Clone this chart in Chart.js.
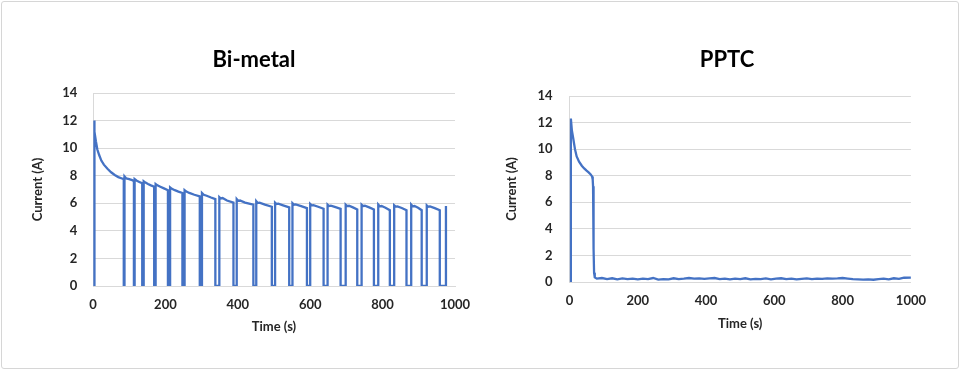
<!DOCTYPE html>
<html>
<head>
<meta charset="utf-8">
<script src="https://cdn.jsdelivr.net/npm/chart.js@4.4.1/dist/chart.umd.min.js"></script>
<style>
  html, body { margin: 0; padding: 0; background: #fff; }
  #frame { position: absolute; left: 1px; top: 1px; width: 956px; height: 366px; border: 1px solid #d6d6d6; border-radius: 3px; }
  canvas { position: absolute; top: 0; }
  #bimetal { left: 0; }
  #pptc { left: 480px; }
</style>
</head>
<body>
<div id="frame"></div>
<canvas id="bimetal" width="485" height="370"></canvas>
<canvas id="pptc" width="457" height="370"></canvas>
<script>
// axis ticks
const xTickValues = [0, 200, 400, 600, 800, 1000];
const yTickValues = [0, 2, 4, 6, 8, 10, 12, 14];

// Bi-metal: current (A) vs time (s)
const bimetalTime = [
  3, 3, 5, 8, 12, 17, 23, 30, 40, 50, 60, 70, 80, 85,
  85, 87, 87, 92, 100, 108, 113,
  113, 115, 115, 120, 128, 136,
  136, 140, 140, 145, 152, 160, 169,
  169, 173, 173, 178, 186, 196, 207,
  207, 213, 213, 218, 226, 236, 247,
  247, 253, 253, 258, 266, 280, 295,
  295, 301, 301, 306, 314, 326, 338,
  338, 349, 349, 353, 358, 370, 388,
  388, 397, 397, 401, 406, 420, 443,
  443, 451, 451, 455, 460, 475, 494,
  494, 503, 503, 507, 512, 525, 542,
  542, 551, 551, 555, 560, 575, 591,
  591, 600, 600, 604, 609, 622, 637,
  637, 648, 648, 652, 657, 670, 684,
  684, 698, 698, 702, 707, 718, 730,
  730, 742, 742, 746, 751, 763, 776,
  776, 788, 788, 792, 797, 808, 820,
  820, 832, 832, 836, 841, 853, 866,
  866, 879, 879, 883, 888, 898, 908,
  908, 922, 922, 926, 931, 944, 958,
  958, 975, 975
];
const bimetalCurrent = [
  0, 12.0, 11.2, 10.5, 9.9, 9.5, 9.1, 8.8, 8.5, 8.25, 8.05, 7.9, 7.8, 7.75,
  0, 0, 7.95, 7.8, 7.75, 7.68, 7.6,
  0, 0, 7.75, 7.65, 7.55, 7.45,
  0, 0, 7.6, 7.5, 7.4, 7.3, 7.2,
  0, 0, 7.4, 7.3, 7.2, 7.08, 6.95,
  0, 0, 7.15, 7.05, 6.95, 6.85, 6.75,
  0, 0, 6.95, 6.85, 6.75, 6.62, 6.5,
  0, 0, 6.75, 6.62, 6.55, 6.42, 6.3,
  0, 0, 6.45, 6.35, 6.38, 6.2, 6.05,
  0, 0, 6.3, 6.18, 6.2, 6.05, 5.9,
  0, 0, 6.15, 6.02, 6.05, 5.9, 5.75,
  0, 0, 6.05, 5.95, 5.97, 5.85, 5.7,
  0, 0, 6.0, 5.9, 5.92, 5.8, 5.65,
  0, 0, 5.95, 5.85, 5.87, 5.75, 5.6,
  0, 0, 5.9, 5.8, 5.83, 5.72, 5.6,
  0, 0, 5.9, 5.8, 5.82, 5.7, 5.55,
  0, 0, 5.9, 5.8, 5.82, 5.7, 5.55,
  0, 0, 5.9, 5.78, 5.8, 5.68, 5.5,
  0, 0, 5.85, 5.76, 5.78, 5.66, 5.5,
  0, 0, 5.9, 5.78, 5.8, 5.68, 5.5,
  0, 0, 5.85, 5.75, 5.77, 5.65, 5.5,
  0, 0, 5.8
];

// PPTC: current (A) vs time (s)
const pptcTime = [
  4, 4, 7, 11, 16, 21, 28, 36, 43, 50, 56, 62, 66, 68, 69, 70, 71, 72, 74, 80,
  95, 110, 125, 140, 155, 170, 185, 200, 215, 230, 245, 260, 275, 290, 305, 320,
  335, 350, 365, 380, 395, 410, 425, 440, 455, 470, 485, 500, 515, 530, 545, 560,
  575, 590, 605, 620, 635, 650, 665, 680, 695, 710, 725, 740, 755, 770, 785, 800,
  815, 830, 845, 860, 875, 890, 905, 920, 935, 950, 965, 980, 1000
];
const pptcCurrent = [
  0, 12.3, 11.4, 10.8, 10.0, 9.45, 9.05, 8.75, 8.55, 8.38, 8.25, 8.1, 7.95, 7.7, 7.2, 5.5, 2.5, 0.7, 0.35, 0.25,
  0.3, 0.22, 0.28, 0.2, 0.27, 0.22, 0.26, 0.2, 0.25, 0.22, 0.3, 0.18, 0.22, 0.2, 0.28, 0.22,
  0.25, 0.3, 0.26, 0.28, 0.24, 0.27, 0.3, 0.22, 0.26, 0.2, 0.25, 0.22, 0.28, 0.2, 0.24, 0.22,
  0.27, 0.2, 0.25, 0.28, 0.22, 0.26, 0.2, 0.24, 0.27, 0.22, 0.26, 0.24, 0.28, 0.25, 0.27, 0.3,
  0.26, 0.22, 0.2, 0.18, 0.2, 0.17, 0.22, 0.25, 0.2, 0.28, 0.24, 0.32, 0.33
];

const lineBlue = '#4472C4';
const gridGray = '#d9d9d9';
const textColor = '#262626';
const family = 'Lato, "Open Sans", sans-serif';
const axisFont = { family: family, size: 13, weight: 'bold' };

function drawChart(id, title, times, values, g) {
  new Chart(document.getElementById(id), {
    type: 'line',
    data: {
      datasets: [{
        data: times.map((t, i) => ({ x: t, y: values[i] })),
        borderColor: lineBlue,
        borderWidth: 2.3,
        pointRadius: 0,
        tension: 0,
        fill: false
      }]
    },
    options: {
      responsive: false,
      animation: false,
      devicePixelRatio: 1,
      layout: { padding: { left: g.padL, right: g.padR, top: 0, bottom: g.padB } },
      plugins: {
        legend: { display: false },
        tooltip: { enabled: false },
        title: {
          display: true,
          text: title,
          color: '#000',
          font: { family: family, size: 22, weight: 'bold' },
          padding: { top: g.titleTop, bottom: g.titleBottom }
        }
      },
      scales: {
        x: {
          type: 'linear',
          min: 0,
          max: 1000,
          afterBuildTicks: s => { s.ticks = xTickValues.map(v => ({ value: v })); },
          afterFit: s => { s.height = g.xHeight; },
          grid: { display: false, drawTicks: false, tickLength: 0 },
          border: { color: gridGray, width: 1 },
          ticks: { padding: g.xTickPad, color: textColor, font: axisFont, maxRotation: 0, callback: v => String(v) },
          title: { display: true, text: 'Time (s)', color: textColor, font: axisFont, padding: { top: 0, bottom: g.xTitlePad } }
        },
        y: {
          min: 0,
          max: 14,
          afterBuildTicks: s => { s.ticks = yTickValues.map(v => ({ value: v })); },
          afterFit: s => { s.width = g.yWidth; },
          grid: { color: gridGray, drawTicks: false, tickLength: 0 },
          border: { color: gridGray, width: 1 },
          ticks: { padding: g.yTickPad, color: textColor, font: axisFont, callback: v => String(v) },
          title: { display: true, text: 'Current (A)', color: textColor, font: axisFont, padding: { top: g.yTitlePad, bottom: 0 } }
        }
      }
    }
  });
}

drawChart('bimetal', 'Bi-metal', bimetalTime, bimetalCurrent, {
  padL: 53, padR: 30, padB: 32, titleTop: 46.8, titleBottom: 19.8,
  xHeight: 52, xTitlePad: 3.2, xTickPad: 11, yWidth: 40, yTitlePad: -22.8, yTickPad: 15.7
});
drawChart('pptc', 'PPTC', pptcTime, pptcCurrent, {
  padL: 37, padR: 0, padB: 38, titleTop: 46.3, titleBottom: 23.3,
  xHeight: 50, xTitlePad: 0.2, xTickPad: 11, yWidth: 52.5, yTitlePad: -13.1, yTickPad: 17
});
</script>
</body>
</html>
